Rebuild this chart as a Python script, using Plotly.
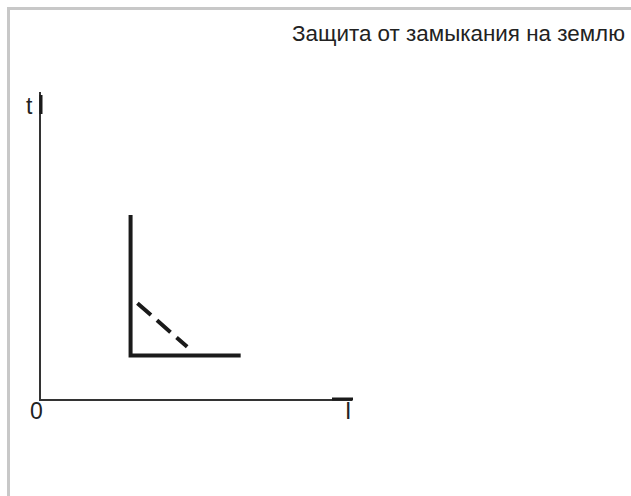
import plotly.graph_objects as go

# Data (axis units 0..10)
curve_x = [2.88, 2.88, 6.42]
curve_y = [5.99, 1.42, 1.42]
dash_x = [3.10, 4.70]
dash_y = [3.12, 1.70]
title_text = "Защита от замыкания на землю"
y_label = "t"
x_label = "I"
origin_label = "0"

W, H = 631, 496
L, R, T, B = 41, 352, 92, 399  # plot area in pixels


def px(xp):
    return (xp - L) / (R - L)


def py(yp):
    return (B - yp) / (B - T)


fig = go.Figure()
fig.add_trace(go.Scatter(x=curve_x, y=curve_y, mode="lines",
                         line=dict(color="#1a1a1a", width=4), hoverinfo="skip"))
fig.add_trace(go.Scatter(x=dash_x, y=dash_y, mode="lines",
                         line=dict(color="#1a1a1a", width=4, dash="18px,8px"), hoverinfo="skip"))

axis_common = dict(showgrid=False, zeroline=False, showticklabels=False, ticks="",
                   showline=True, linecolor="#333333", linewidth=1.5, fixedrange=True)
fig.update_xaxes(range=[0, 10], **axis_common)
fig.update_yaxes(range=[0, 10], **axis_common)

shapes = [
    # thick stubs at axis ends
    dict(type="line", xref="paper", yref="paper", x0=0, x1=0, y0=py(95), y1=py(114),
         line=dict(color="#1a1a1a", width=3)),
    dict(type="line", xref="paper", yref="paper", x0=px(332), x1=px(353), y0=0, y1=0,
         line=dict(color="#1a1a1a", width=3)),
    # frame border
    dict(type="line", xref="paper", yref="paper", x0=px(8.5), x1=px(8.5), y0=py(7), y1=py(520),
         line=dict(color="#c8c8c8", width=3)),
    dict(type="line", xref="paper", yref="paper", x0=px(7), x1=px(660), y0=py(8.5), y1=py(8.5),
         line=dict(color="#c8c8c8", width=3)),
]

font = "Liberation Sans, Arial, sans-serif"
annotations = [
    dict(text=title_text, xref="paper", yref="paper", x=px(627), y=py(34),
         xanchor="right", yanchor="middle", showarrow=False,
         font=dict(family=font, size=22.4, color="#222222")),
    dict(text=y_label, xref="paper", yref="paper", x=px(29), y=py(106),
         xanchor="center", yanchor="middle", showarrow=False,
         font=dict(family=font, size=23, color="#222222")),
    dict(text=origin_label, xref="paper", yref="paper", x=px(36), y=py(411),
         xanchor="center", yanchor="middle", showarrow=False,
         font=dict(family=font, size=23, color="#222222")),
    dict(text=x_label, xref="paper", yref="paper", x=px(347.5), y=py(411),
         xanchor="center", yanchor="middle", showarrow=False,
         font=dict(family=font, size=23, color="#222222")),
]

fig.update_layout(
    width=W, height=H,
    margin=dict(l=L, r=W - R, t=T, b=H - B, pad=0),
    paper_bgcolor="white", plot_bgcolor="white",
    showlegend=False,
    shapes=shapes, annotations=annotations,
)

fig.write_html("out.html", config={"displayModeBar": False},
               post_script="document.body.style.margin='0';document.body.style.overflow='hidden';")
